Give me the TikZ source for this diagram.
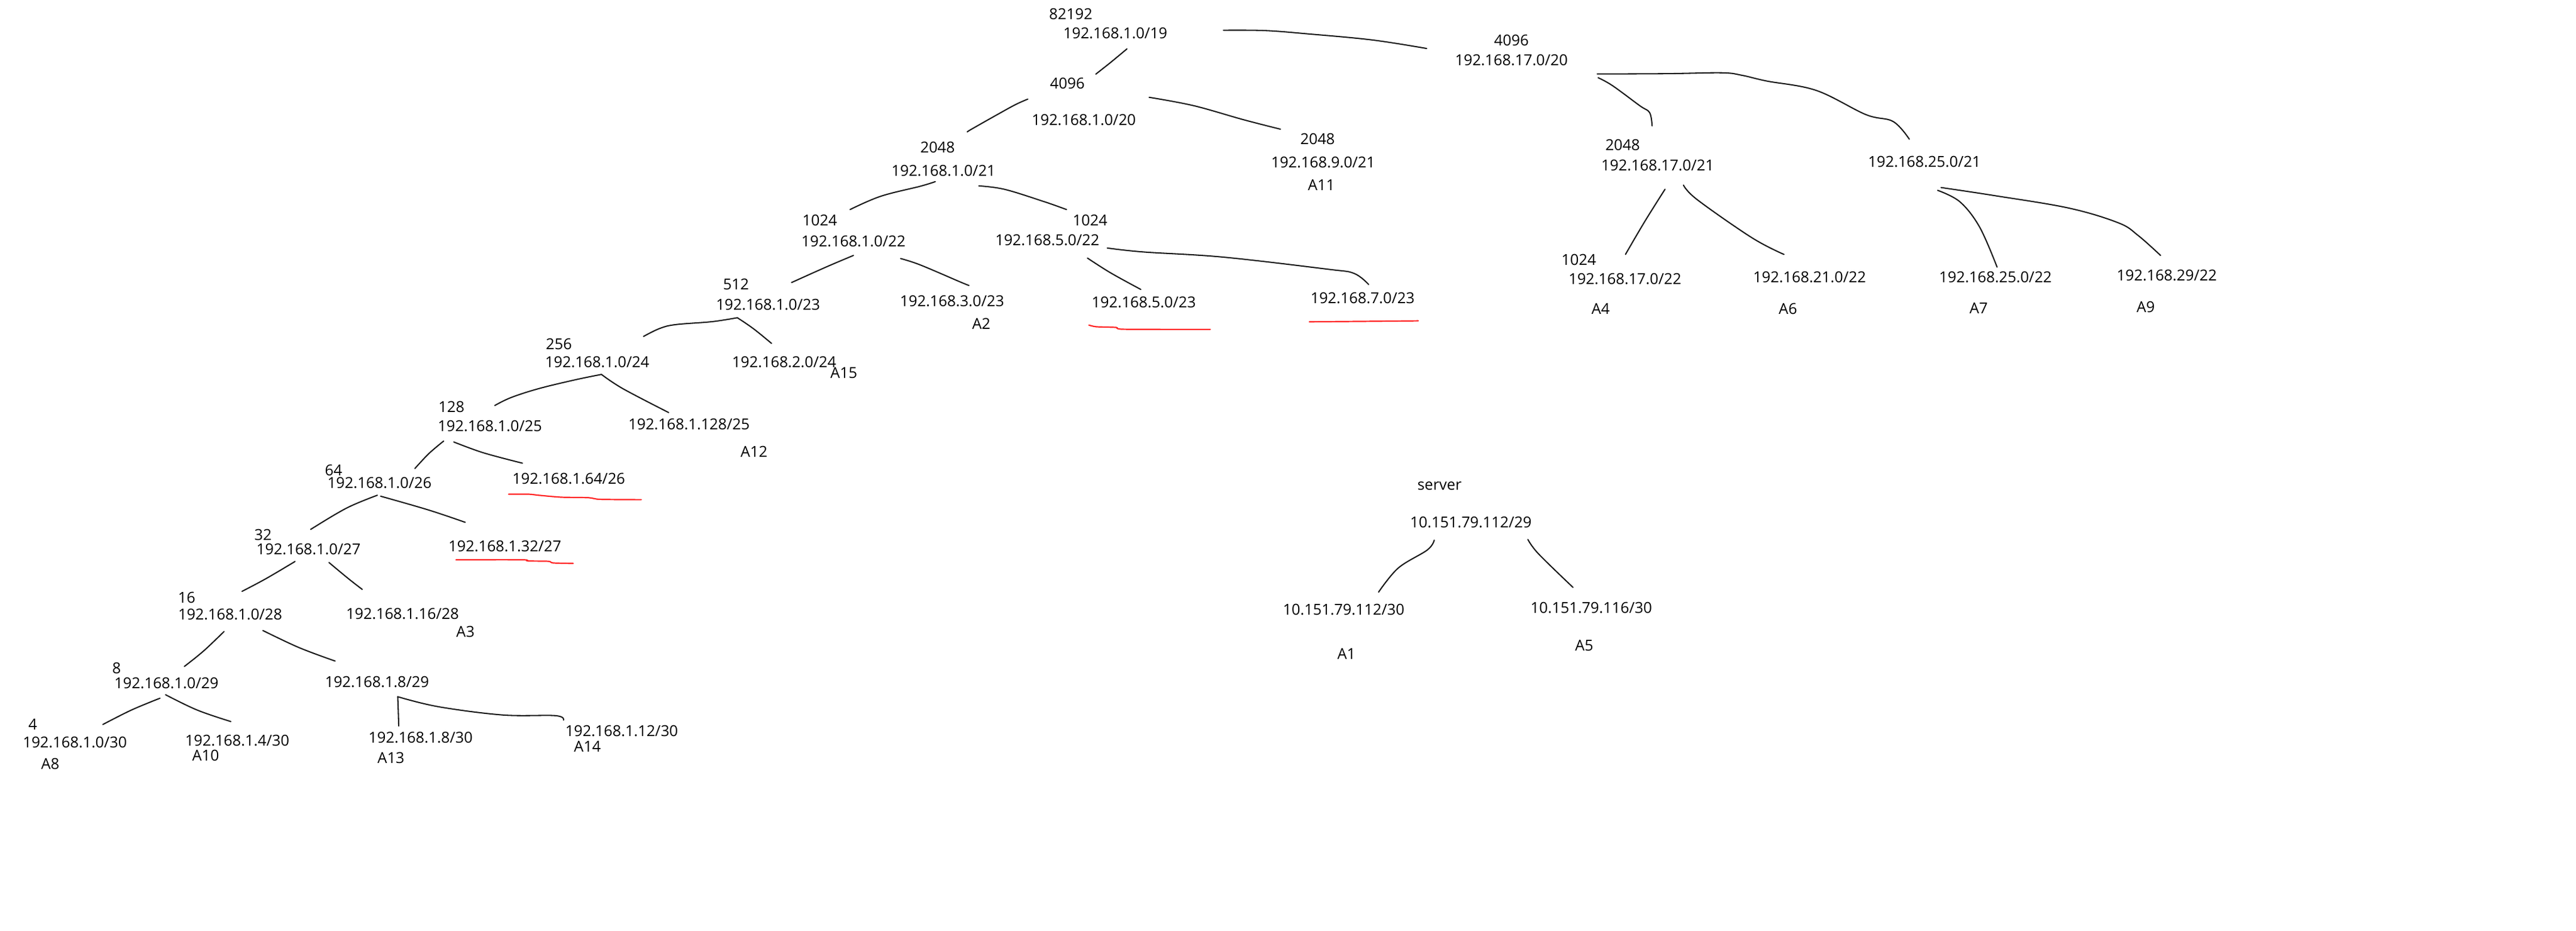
\documentclass[tikz,border=0pt]{standalone}
\usepackage{fontspec}
\setmainfont{Open Sans}
\begin{document}
\begin{tikzpicture}[x=1pt,y=-1pt,
  lbl/.style={inner sep=0pt,anchor=base,font=\fontsize{9.2}{11}\selectfont,text=black},
  branch/.style={line width=0.75pt,draw=black!90,line cap=round,line join=round},
  redline/.style={line width=0.8pt,draw=red!85!white,line cap=round}]
\useasboundingbox[fill=white] (0,0) rectangle (1568,566.1);
% ---- texts (x = centre, y = baseline) ----
\node[lbl] (n82192) at (651.8,11.8) {82192};
\node[lbl] (p19) at (678.9,23.3) {192.168.1.0/19};
\node[lbl] (n4096a) at (649.7,54.2) {4096};
\node[lbl] (p20a) at (659.7,76.1) {192.168.1.0/20};
\node[lbl] (n2048b) at (802,87.8) {2048};
\node[lbl] (p921) at (805.4,101.9) {192.168.9.0/21};
\node[lbl] (a11) at (804.3,115.7) {A11};
\node[lbl] (n2048a) at (570.7,93.0) {2048};
\node[lbl] (p121) at (574.3,107.0) {192.168.1.0/21};
\node[lbl] (n1024a) at (499,137.2) {1024};
\node[lbl] (p122) at (519.5,150.2) {192.168.1.0/22};
\node[lbl] (n1024b) at (663.5,137.5) {1024};
\node[lbl] (p522) at (637.5,149.4) {192.168.5.0/22};
\node[lbl] (n512) at (448,176.3) {512};
\node[lbl] (p123) at (467.5,188.8) {192.168.1.0/23};
\node[lbl] (p323) at (579.5,186.3) {192.168.3.0/23};
\node[lbl] (a2) at (597.3,200.3) {A2};
\node[lbl] (p523) at (696.2,187.3) {192.168.5.0/23};
\node[lbl] (p723) at (829.4,184.5) {192.168.7.0/23};
\node[lbl] (n256) at (340.2,212.6) {256};
\node[lbl] (p124) at (363.5,223.6) {192.168.1.0/24};
\node[lbl] (p224) at (477.3,223.6) {192.168.2.0/24};
\node[lbl] (a15) at (513.6,230.2) {A15};
\node[lbl] (n128) at (274.8,251.0) {128};
\node[lbl] (p125) at (298.2,262.3) {192.168.1.0/25};
\node[lbl] (p12825) at (419.4,261.4) {192.168.1.128/25};
\node[lbl] (a12) at (459,278.3) {A12};
\node[lbl] (n64) at (203,289.4) {64};
\node[lbl] (p126) at (231,297.1) {192.168.1.0/26};
\node[lbl] (p6426) at (346.2,294.4) {192.168.1.64/26};
\node[lbl] (n32) at (160.1,328.7) {32};
\node[lbl] (p127) at (187.8,337.4) {192.168.1.0/27};
\node[lbl] (p3227) at (307.3,335.5) {192.168.1.32/27};
\node[lbl] (n16) at (113.6,367.0) {16};
\node[lbl] (p128) at (140.1,376.9) {192.168.1.0/28};
\node[lbl] (p1628) at (245,376.6) {192.168.1.16/28};
\node[lbl] (a3) at (283.3,387.5) {A3};
\node[lbl] (n8) at (71,409.7) {8};
\node[lbl] (p129) at (101.3,419.0) {192.168.1.0/29};
\node[lbl] (p829) at (229.5,418.2) {192.168.1.8/29};
\node[lbl] (n4) at (20,444.1) {4};
\node[lbl] (p130) at (45.6,454.9) {192.168.1.0/30};
\node[lbl] (a8) at (30.6,468.2) {A8};
\node[lbl] (p430) at (144.4,453.7) {192.168.1.4/30};
\node[lbl] (a10) at (125.2,462.8) {A10};
\node[lbl] (p830) at (256,451.9) {192.168.1.8/30};
\node[lbl] (a13) at (238,464.3) {A13};
\node[lbl] (p1230) at (378.4,447.9) {192.168.1.12/30};
\node[lbl] (a14) at (357.6,457.3) {A14};
\node[lbl] (n4096b) at (920,27.7) {4096};
\node[lbl] (p1720) at (920,39.7) {192.168.17.0/20};
\node[lbl] (n2048c) at (987.7,91.4) {2048};
\node[lbl] (p1721) at (1009,103.8) {192.168.17.0/21};
\node[lbl] (p2521) at (1171.4,101.8) {192.168.25.0/21};
\node[lbl] (n1024c) at (961,161.2) {1024};
\node[lbl] (p1722) at (989.1,172.8) {192.168.17.0/22};
\node[lbl] (a4) at (974.3,191.3) {A4};
\node[lbl] (p2122) at (1101.5,171.9) {192.168.21.0/22};
\node[lbl] (a6) at (1088.3,191.3) {A6};
\node[lbl] (p2522) at (1214.6,171.9) {192.168.25.0/22};
\node[lbl] (a7) at (1204.4,190.7) {A7};
\node[lbl] (p2922) at (1318.9,170.9) {192.168.29/22};
\node[lbl] (a9) at (1306.1,190.1) {A9};
\node[lbl] (srv) at (876.2,298.2) {server};
\node[lbl] (s29) at (895.3,321.0) {10.151.79.112/29};
\node[lbl] (s112) at (817.9,374.1) {10.151.79.112/30};
\node[lbl] (a1) at (819.6,401.0) {A1};
\node[lbl] (s116) at (968.6,373.1) {10.151.79.116/30};
\node[lbl] (a5) at (964.3,396.1) {A5};
% ---- connectors (hand-drawn strokes) ----
\draw[branch] plot[smooth,tension=0.6] coordinates {(686,29.7) (676,38) (667,45.1)};
\draw[branch] plot[smooth,tension=0.6] coordinates {(744.7,18.4) (770,18.6) (796,20.6) (835.2,24.3) (868.4,29.5)};
\draw[branch] plot[smooth,tension=0.6] coordinates {(625.6,60.3) (618,63.7) (606,70.3) (591,78.8) (588.8,80.3)};
\draw[branch] plot[smooth,tension=0.6] coordinates {(699.5,59.2) (726.6,64.3) (756.8,72.8) (779.4,78.6)};
\draw[branch] plot[smooth,tension=0.6] coordinates {(569.3,110.5) (560.2,113.3) (536.1,119.4) (517.4,127.5)};
\draw[branch] plot[smooth,tension=0.6] coordinates {(595.8,113.1) (611.5,115.2) (635.6,122.7) (649.2,127.5)};
\draw[branch] plot[smooth,tension=0.6] coordinates {(519.5,155.4) (503,162.4) (481.8,171.9)};
\draw[branch] plot[smooth,tension=0.6] coordinates {(548.2,157.3) (560.2,161.2) (584.4,171.5) (589.8,173.7)};
\draw[branch] plot[smooth,tension=0.6] coordinates {(661.9,157) (676,166) (694.4,176.1)};
\draw[branch] plot[smooth,tension=0.6] coordinates {(674,150.9) (696,153.3) (744.2,156.4) (807.5,163.7) (824.1,166.3) (833.1,173.1)};
\draw[branch] plot[smooth,tension=0.6] coordinates {(448.8,193.3) (433.4,195.7) (411.2,197.5) (401.4,199.9) (391.7,204.7)};
\draw[branch] plot[smooth,tension=0.6] coordinates {(448.8,193.3) (458.5,199.9) (469.6,208.9)};
\draw[branch] plot[smooth,tension=0.6] coordinates {(366.1,227.8) (350,231.1) (327.7,236.5) (311,241.9) (301.2,246.7)};
\draw[branch] plot[smooth,tension=0.6] coordinates {(366.1,227.8) (379.2,236.5) (407,251)};
\draw[branch] plot[smooth,tension=0.6] coordinates {(270.1,268.3) (261,276) (252.5,285.1)};
\draw[branch] plot[smooth,tension=0.6] coordinates {(276.2,268.9) (294.3,275.5) (318,281.8)};
\draw[branch] plot[smooth,tension=0.6] coordinates {(229.7,301.3) (210.8,309.2) (189.1,322.1)};
\draw[branch] plot[smooth,tension=0.6] coordinates {(231.7,301.9) (260.9,310.3) (283.2,317.8)};
\draw[branch] plot[smooth,tension=0.6] coordinates {(179.6,341.6) (162,352) (147.3,359.8)};
\draw[branch] plot[smooth,tension=0.6] coordinates {(200.2,342.2) (212,352) (220.5,358.6)};
\draw[branch] plot[smooth,tension=0.6] coordinates {(136.4,384.2) (124,396) (112.2,405.5)};
\draw[branch] plot[smooth,tension=0.6] coordinates {(160,383.6) (182,394) (204,402.2)};
\draw[branch] plot[smooth,tension=0.6] coordinates {(97.4,424.8) (80,432) (62.6,440.8)};
\draw[branch] plot[smooth,tension=0.6] coordinates {(100.8,422.7) (120,432) (140.5,439)};
\draw[branch] plot[smooth,tension=0.6] coordinates {(242.1,423.9) (242.4,432) (242.7,441.7)};
\draw[branch] plot[smooth,tension=0.6] coordinates {(242.1,423.9) (267,430) (306,435) (338,435.4) (343,438.1)};
\draw[branch] plot[smooth,tension=0.6] coordinates {(972.8,47.3) (981.5,52.1) (998.1,64.3) (1004.1,68.5) (1005.6,76.6)};
\draw[branch] plot[smooth,tension=0.6] coordinates {(972.2,45) (1015,44.8) (1048.2,44.3) (1060.3,45.8) (1075.4,49.3) (1105.5,55) (1135.7,69.7) (1152.3,73.9) (1162.2,84.7)};
\draw[branch] plot[smooth,tension=0.6] coordinates {(1013.5,115.1) (1001,135) (989.4,154.8)};
\draw[branch] plot[smooth,tension=0.6] coordinates {(1024.7,112.6) (1033.1,121.5) (1066.3,144.6) (1085.9,154.8)};
\draw[branch] plot[smooth,tension=0.6] coordinates {(1179.4,115.8) (1193,122.8) (1205,138.2) (1215.6,162.5)};
\draw[branch] plot[smooth,tension=0.6] coordinates {(1181.5,114.1) (1214,119) (1259.3,126.6) (1289.5,135.6) (1301.5,143.3) (1315.1,155.4)};
\draw[branch] plot[smooth,tension=0.6] coordinates {(873,328.6) (868.8,334.6) (851.1,345.6) (839.1,360.3)};
\draw[branch] plot[smooth,tension=0.6] coordinates {(930,328.2) (936.5,337) (957.5,357.4)};
% ---- red underlines ----
\draw[redline] plot[smooth,tension=0.4] coordinates {(662.8,197.8) (667.3,198.8) (679.4,199.2) (683.9,200.3) (736.7,200.4)};
\draw[redline] plot[smooth,tension=0.4] coordinates {(797,195.8) (831.7,195.5) (863.3,195.2)};
\draw[redline] plot[smooth,tension=0.4] coordinates {(309.6,300.7) (322.1,300.7) (327.7,301.3) (341.6,302.5) (358.3,302.8) (365.3,303.8) (390.3,304)};
\draw[redline] plot[smooth,tension=0.4] coordinates {(277.6,340.6) (318.5,340.6) (321.3,341.3) (333.9,341.5) (336.6,342.5) (348.9,342.8)};
\end{tikzpicture}
\end{document}
